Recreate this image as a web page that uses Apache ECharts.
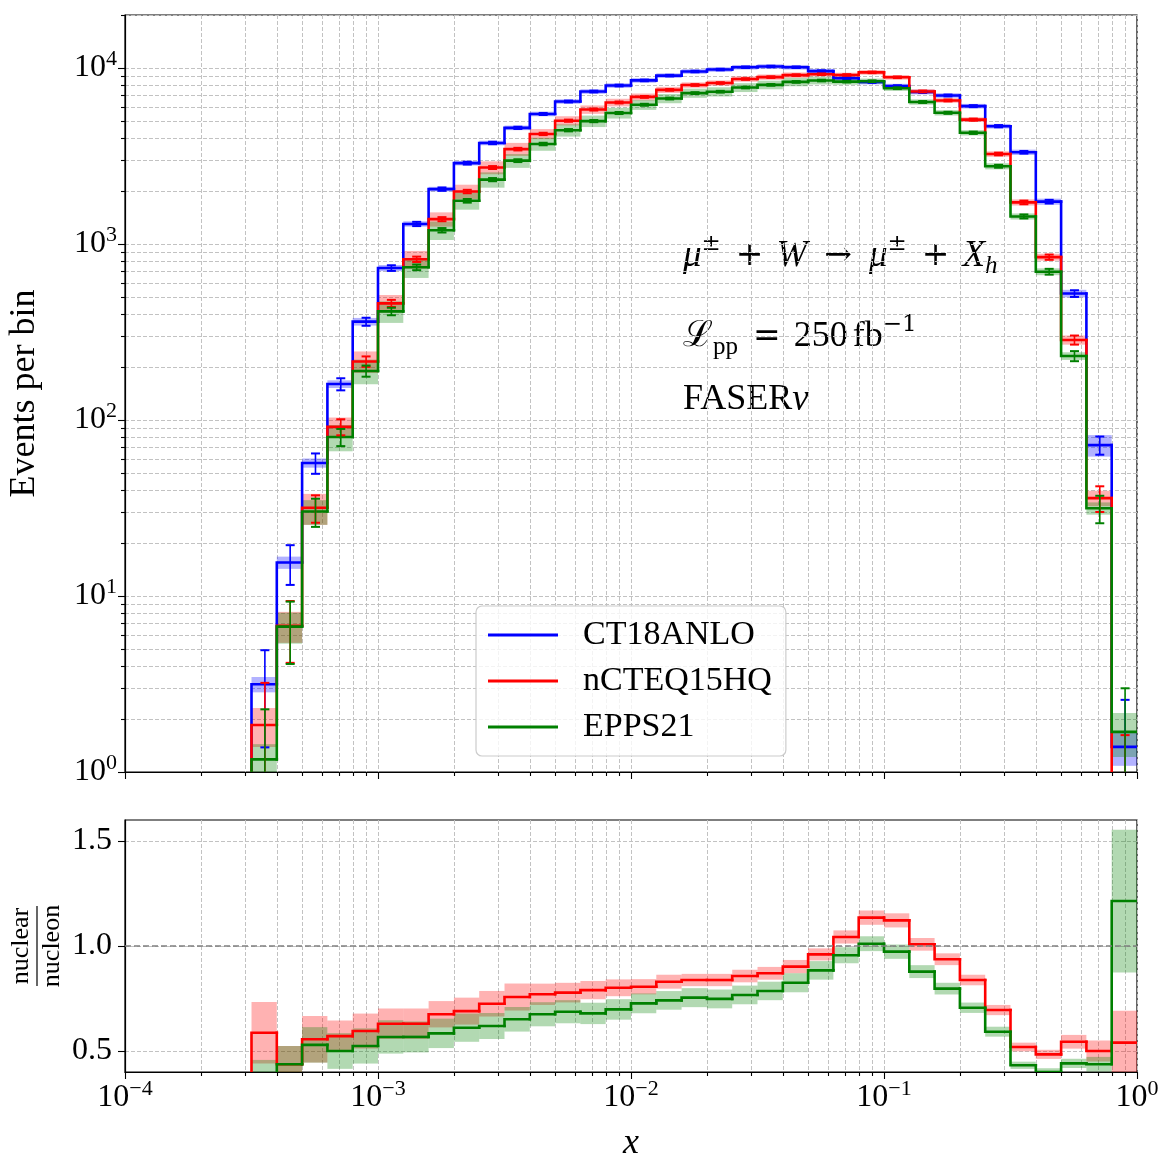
<!DOCTYPE html>
<html>
<head>
<meta charset="utf-8">
<script src="https://cdn.jsdelivr.net/npm/echarts@6/dist/echarts.min.js"></script>
<style>
  html, body { margin: 0; background: #fff; }
  #chart { width: 1176px; height: 1176px; }
</style>
</head>
<body>
<div id="chart"></div>
<script>
// log-spaced bins, 0.1 decade wide, from 10^-3.5 to 1
const edges = [3.1623e-4, 3.9811e-4, 5.0119e-4, 6.3096e-4, 7.9433e-4, 1.0e-3, 1.2589e-3, 1.5849e-3, 1.9953e-3, 2.5119e-3,
  3.1623e-3, 3.9811e-3, 5.0119e-3, 6.3096e-3, 7.9433e-3, 1.0e-2, 1.2589e-2, 1.5849e-2, 1.9953e-2, 2.5119e-2,
  3.1623e-2, 3.9811e-2, 5.0119e-2, 6.3096e-2, 7.9433e-2, 0.1, 0.12589, 0.15849, 0.19953, 0.25119,
  0.31623, 0.39811, 0.50119, 0.63096, 0.79433, 1.0];

// events per bin
const eventsCT18 = [3.15, 15.5, 57, 160, 362, 730, 1300, 2050, 2880, 3750, 4570, 5480, 6450, 7350, 7950, 8500, 9050, 9550,
  9800, 10100, 10200, 10100, 9600, 8750, 8320, 7890, 7300, 6980, 6070, 4670, 3320, 1740, 523, 72, 1.39];
const eventsNCTEQ = [1.85, 6.77, 31.7, 91.4, 215, 460, 819, 1384, 1987, 2719, 3459, 4220, 5018, 5807, 6368, 6851, 7512, 8003,
  8212, 8656, 8874, 9110, 9216, 9126, 9443, 8853, 7358, 6540, 5087, 3246, 1723, 842, 285, 36, 0.75];
const eventsEPPS = [1.18, 6.7, 30.2, 80, 190, 414, 737, 1197, 1760, 2321, 2975, 3699, 4431, 4991, 5549, 6180, 6706, 7201,
  7330, 7747, 8017, 8333, 8486, 8365, 8412, 7677, 6409, 5563, 4285, 2765, 1434, 696, 231, 31.5, 1.69];

// statistical errors (error bars)
const errCT18 = [1.77, 3.94, 7.55, 12.6, 19.0, 27.0, 36.1, 45.3, 53.7, 61.2, 67.6, 74.0, 80.3, 85.7, 89.2, 92.2, 95.1, 97.7,
  99, 100.5, 101, 100.5, 98, 93.5, 91.2, 88.8, 85.4, 83.5, 77.9, 68.3, 57.6, 41.7, 22.9, 8.5, 1.18];
const errNCTEQ = [1.36, 2.6, 5.63, 9.56, 14.7, 21.4, 28.6, 37.2, 44.6, 52.1, 58.8, 65, 70.8, 76.2, 79.8, 82.8, 86.7, 89.5,
  90.6, 93, 94.2, 95.4, 96, 95.5, 97.2, 94.1, 85.8, 80.9, 71.3, 57, 41.5, 29, 16.9, 6, 0.87];
const errEPPS = [1.09, 2.59, 5.5, 8.94, 13.8, 20.3, 27.1, 34.6, 42, 48.2, 54.5, 60.8, 66.6, 70.6, 74.5, 78.6, 81.9, 84.9,
  85.6, 88, 89.5, 91.3, 92.1, 91.5, 91.7, 87.6, 80.1, 74.6, 65.5, 52.6, 37.9, 26.4, 15.2, 5.6, 1.3];

// relative PDF uncertainty (half width of the shaded bands)
const bandCT18 = [0.10, 0.08, 0.06, 0.05, 0.05, 0.04, 0.035, 0.03, 0.03, 0.03, 0.03, 0.03, 0.03, 0.03, 0.03, 0.03, 0.03, 0.03,
  0.03, 0.03, 0.03, 0.03, 0.03, 0.03, 0.03, 0.03, 0.03, 0.03, 0.03, 0.03, 0.035, 0.04, 0.05, 0.14, 0.22];
const bandNCTEQ = [0.25, 0.2, 0.2, 0.13, 0.14, 0.115, 0.115, 0.093, 0.093, 0.084, 0.085, 0.066, 0.06, 0.055, 0.05, 0.045, 0.04,
  0.035, 0.035, 0.035, 0.035, 0.035, 0.03, 0.03, 0.03, 0.03, 0.03, 0.03, 0.03, 0.035, 0.04, 0.045, 0.06, 0.1, 0.28];
const bandEPPS = [0.22, 0.2, 0.16, 0.17, 0.16, 0.14, 0.13, 0.12, 0.11, 0.1, 0.09, 0.085, 0.08, 0.075, 0.07, 0.065, 0.06, 0.06,
  0.06, 0.058, 0.056, 0.055, 0.05, 0.04, 0.035, 0.035, 0.035, 0.035, 0.035, 0.04, 0.04, 0.045, 0.05, 0.08, 0.28];

// nuclear / nucleon ratios
const ratioNCTEQ = [0.587, 0.437, 0.556, 0.571, 0.595, 0.63, 0.63, 0.675, 0.69, 0.725, 0.757, 0.77, 0.778, 0.79, 0.801, 0.806,
  0.83, 0.838, 0.838, 0.857, 0.87, 0.902, 0.96, 1.043, 1.135, 1.122, 1.008, 0.937, 0.838, 0.695, 0.519, 0.484, 0.544, 0.5, 0.54];
const ratioEPPS = [0.375, 0.437, 0.529, 0.5, 0.524, 0.567, 0.567, 0.584, 0.611, 0.619, 0.651, 0.675, 0.687, 0.679, 0.698, 0.727,
  0.741, 0.754, 0.748, 0.767, 0.786, 0.825, 0.884, 0.956, 1.011, 0.973, 0.878, 0.797, 0.706, 0.592, 0.432, 0.40, 0.441, 0.437, 1.214];

// ticks
const xMajor = [1e-4, 1e-3, 1e-2, 1e-1, 1];
const xExp = ['\u22124', '\u22123', '\u22122', '\u22121', '0'];
const yTopMajor = [1, 10, 100, 1000, 10000];
const yTopExp = ['0', '1', '2', '3', '4'];
const yRatioTicks = [0.5, 1.0, 1.5];
const minorMult = [2, 3, 4, 5, 6, 7, 8, 9];
const xMinor = xMajor.slice(0, -1).flatMap(d => minorMult.map(k => k * d));
const yTopMinor = yTopMajor.slice(0, -1).flatMap(d => minorMult.map(k => k * d)).concat([2e4]);

const BLUE = '#0000ff', RED = '#ff0000', GREEN = '#008000';
const FONT = '"Liberation Serif", "DejaVu Serif", serif';
const SYM = '"DejaVu Serif", serif';

const chart = echarts.init(document.getElementById('chart'), null, { renderer: 'canvas' });

const histData = (vals, band, err) =>
  vals.map((v, i) => [edges[i], edges[i + 1], v, band[i], err ? err[i] : 0, i > 0 ? vals[i - 1] : 0]);

const below = params => params.coordSys.y + params.coordSys.height + 10;
const yPix = (api, params, x, v) => (v > 0 ? api.coord([x, v])[1] : below(params));

const renderBand = fill => (params, api) => {
  const lo = api.value(0), hi = api.value(1), v = api.value(2), r = api.value(3);
  const a = api.coord([lo, v * (1 + r)]), b = api.coord([hi, v * (1 - r)]);
  return { type: 'rect', shape: { x: a[0], y: a[1], width: b[0] - a[0], height: b[1] - a[1] }, style: { fill } };
};

const renderStep = color => (params, api) => {
  const lo = api.value(0), hi = api.value(1), v = api.value(2), prev = api.value(5);
  const yv = yPix(api, params, lo, v), yp = yPix(api, params, lo, prev);
  const x0 = api.coord([lo, 1])[0], x1 = api.coord([hi, 1])[0];
  return {
    type: 'polyline',
    shape: { points: [[x0, yp], [x0, yv], [x1, yv]] },
    style: { stroke: color, lineWidth: 2.6, fill: null, lineCap: 'square', lineJoin: 'miter' },
  };
};

const renderErr = color => (params, api) => {
  const lo = api.value(0), hi = api.value(1), v = api.value(2), e = api.value(4);
  const xc = api.coord([(lo + hi) / 2, 1])[0];
  const yt = api.coord([lo, v + e])[1];
  const yb = yPix(api, params, lo, v - e);
  const bar = { stroke: color, lineWidth: 1.6 }, cap = { stroke: color, lineWidth: 2 };
  return {
    type: 'group',
    children: [
      { type: 'line', shape: { x1: xc, y1: yt, x2: xc, y2: yb }, style: bar },
      { type: 'line', shape: { x1: xc - 4.5, y1: yt, x2: xc + 4.5, y2: yt }, style: cap },
      { type: 'line', shape: { x1: xc - 4.5, y1: yb, x2: xc + 4.5, y2: yb }, style: cap },
    ],
  };
};

const custom = (name, xi, data, renderItem) => ({
  name, type: 'custom', xAxisIndex: xi, yAxisIndex: xi, clip: true, silent: true,
  encode: { x: [0, 1], y: 2 }, data, renderItem,
});

const gridLine = { show: true, lineStyle: { color: '#c2c2c2', width: 1, type: [4, 2] } };
const spine = { show: true, onZero: false, lineStyle: { color: '#000', width: 1.2 } };
const tickMaj = len => ({ show: true, length: len, lineStyle: { color: '#000', width: 1.1 } });
const richPow = {
  b: { fontFamily: FONT, fontSize: 32, color: '#000', lineHeight: 40 },
  s: { fontFamily: FONT, fontSize: 22, color: '#000', lineHeight: 22, verticalAlign: 'top' },
};
const nearestIdx = (arr, v) => arr.findIndex(t => Math.abs(Math.log10(t) - Math.log10(v)) < 1e-6);

const logX = (gi, extra) => Object.assign({
  gridIndex: gi, type: 'log', logBase: 10, min: 1e-4, max: 1, position: 'bottom',
  axisLine: { show: false }, axisLabel: { show: false }, splitLine: gridLine,
}, extra);

// text styles for the annotations (math-like)
const tx = (size, extra) => Object.assign({ fontFamily: FONT, fontSize: size, lineHeight: 46, fill: '#000' }, extra);
const mathRich = {
  i: tx(37, { fontStyle: 'italic' }),
  n: tx(36),
  o: tx(33, { fontFamily: SYM, padding: [0, 13, 0, 15] }),
  a: tx(33, { fontFamily: SYM, padding: [0, 17, 0, 17] }),
  t: tx(36, { padding: [0, 0, 0, 5] }),
  s: tx(23, { fontFamily: SYM, lineHeight: 26, verticalAlign: 'top' }),
  d: tx(25, { lineHeight: 27, verticalAlign: 'bottom' }),
  di: tx(25, { lineHeight: 27, verticalAlign: 'bottom', fontStyle: 'italic' }),
};

const option = {
  backgroundColor: '#fff',
  animation: false,
  grid: [
    { left: 125, top: 15, width: 1012, height: 757, show: true, borderColor: '#000', borderWidth: 1.2,
      backgroundColor: 'transparent', containLabel: false, outerBoundsMode: 'none' },
    { left: 125, top: 820, width: 1012, height: 252, show: true, borderColor: '#000', borderWidth: 1.2,
      backgroundColor: 'transparent', containLabel: false, outerBoundsMode: 'none' },
  ],
  xAxis: [
    logX(0, { axisLine: spine, axisTick: Object.assign(tickMaj(7), { customValues: xMajor }) }),
    logX(0, { axisTick: Object.assign(tickMaj(4), { customValues: xMinor }) }),
    logX(1, {
      axisLine: spine,
      axisTick: Object.assign(tickMaj(7), { customValues: xMajor }),
      axisLabel: {
        show: true, customValues: xMajor, margin: 6, rich: richPow,
        formatter: v => { const k = nearestIdx(xMajor, v); return k < 0 ? '' : `{b|10}{s|${xExp[k]}}`; },
      },
      name: 'x', nameLocation: 'middle', nameGap: 54,
      nameTextStyle: { fontFamily: FONT, fontStyle: 'italic', fontSize: 36, color: '#000' },
    }),
    logX(1, { axisTick: Object.assign(tickMaj(4), { customValues: xMinor }) }),
  ],
  yAxis: [
    {
      gridIndex: 0, type: 'log', logBase: 10, min: 1, max: 2e4, position: 'left',
      axisLine: spine, axisTick: Object.assign(tickMaj(7), { customValues: yTopMajor }),
      axisLabel: {
        show: true, customValues: yTopMajor, margin: 8, rich: richPow,
        formatter: v => { const k = nearestIdx(yTopMajor, v); return k < 0 ? '' : `{b|10}{s|${yTopExp[k]}}`; },
      },
      splitLine: gridLine,
      name: 'Events per bin', nameLocation: 'middle', nameGap: 82, nameRotate: 90,
      nameTextStyle: { fontFamily: FONT, fontSize: 36, color: '#000' },
    },
    {
      gridIndex: 0, type: 'log', logBase: 10, min: 1, max: 2e4, position: 'left',
      axisLine: { show: false }, axisTick: Object.assign(tickMaj(4), { customValues: yTopMinor }),
      axisLabel: { show: false }, splitLine: gridLine,
    },
    {
      gridIndex: 1, type: 'value', min: 0.4, max: 1.6, position: 'left',
      axisLine: spine, axisTick: Object.assign(tickMaj(7), { customValues: yRatioTicks }),
      axisLabel: {
        show: true, customValues: yRatioTicks, margin: 13, fontFamily: FONT, fontSize: 32, color: '#000',
        formatter: v => v.toFixed(1),
      },
      splitLine: gridLine,
    },
  ],
  legend: {
    data: [
      { name: 'CT18ANLO', itemStyle: { color: BLUE } },
      { name: 'nCTEQ15HQ', itemStyle: { color: RED } },
      { name: 'EPPS21', itemStyle: { color: GREEN } },
    ],
    orient: 'vertical', left: 476, top: 606, selectedMode: false,
    icon: 'rect', itemWidth: 70, itemHeight: 3, itemGap: 12,
    padding: [12, 14, 12, 12],
    backgroundColor: 'rgba(255,255,255,0.8)', borderColor: '#cccccc', borderWidth: 1.2, borderRadius: 6,
    textStyle: { fontFamily: FONT, fontSize: 34, color: '#000', lineHeight: 34, padding: [0, 0, 0, 20] },
  },
  graphic: [
    {
      type: 'text', x: 683, y: 256, silent: true,
      style: {
        text: '{i|\u03bc}{s|\u00b1}{o|+}{i|W}{a|\u2192}{i|\u03bc}{s|\u00b1}{o|+}{i|X}{di|h}',
        verticalAlign: 'middle', textVerticalAlign: 'middle', rich: mathRich,
      },
    },
    {
      type: 'text', x: 683, y: 337, silent: true,
      style: {
        text: '{n|\u2112}{d|pp}{o|=}{n|250}{t|fb}{s|\u22121}',
        verticalAlign: 'middle', textVerticalAlign: 'middle', rich: mathRich,
      },
    },
    {
      type: 'text', x: 683, y: 400, silent: true,
      style: {
        text: '{n|FASER}{i|\u03bd}',
        verticalAlign: 'middle', textVerticalAlign: 'middle', rich: mathRich,
      },
    },
    {
      type: 'group', x: 37, y: 946, rotation: Math.PI / 2, silent: true,
      children: [
        { type: 'text', x: 0, y: -3, style: { text: 'nuclear', fontFamily: FONT, fontSize: 26, fill: '#000',
          align: 'center', textAlign: 'center', verticalAlign: 'bottom', textVerticalAlign: 'bottom' } },
        { type: 'line', shape: { x1: -40, y1: 0, x2: 40, y2: 0 }, style: { stroke: '#000', lineWidth: 1.2 } },
        { type: 'text', x: 0, y: 2, style: { text: 'nucleon', fontFamily: FONT, fontSize: 26, fill: '#000',
          align: 'center', textAlign: 'center', verticalAlign: 'top', textVerticalAlign: 'top' } },
      ],
    },
  ],
  series: [
    // upper panel: uncertainty bands, step outlines, error bars
    custom('band CT18ANLO', 0, histData(eventsCT18, bandCT18), renderBand('rgba(0,0,255,0.3)')),
    custom('band nCTEQ15HQ', 0, histData(eventsNCTEQ, bandNCTEQ), renderBand('rgba(255,0,0,0.3)')),
    custom('band EPPS21', 0, histData(eventsEPPS, bandEPPS), renderBand('rgba(0,128,0,0.3)')),
    Object.assign(custom('CT18ANLO', 0, histData(eventsCT18, bandCT18), renderStep(BLUE)), { itemStyle: { color: BLUE } }),
    Object.assign(custom('nCTEQ15HQ', 0, histData(eventsNCTEQ, bandNCTEQ), renderStep(RED)), { itemStyle: { color: RED } }),
    Object.assign(custom('EPPS21', 0, histData(eventsEPPS, bandEPPS), renderStep(GREEN)), { itemStyle: { color: GREEN } }),
    custom('err CT18ANLO', 0, histData(eventsCT18, bandCT18, errCT18), renderErr(BLUE)),
    custom('err nCTEQ15HQ', 0, histData(eventsNCTEQ, bandNCTEQ, errNCTEQ), renderErr(RED)),
    custom('err EPPS21', 0, histData(eventsEPPS, bandEPPS, errEPPS), renderErr(GREEN)),
    // lower panel: ratios to CT18ANLO
    custom('ratio band nCTEQ15HQ', 2, histData(ratioNCTEQ, bandNCTEQ), renderBand('rgba(255,0,0,0.3)')),
    custom('ratio band EPPS21', 2, histData(ratioEPPS, bandEPPS), renderBand('rgba(0,128,0,0.3)')),
    {
      name: 'unity', type: 'line', xAxisIndex: 2, yAxisIndex: 2, data: [], silent: true,
      markLine: {
        silent: true, symbol: 'none', label: { show: false },
        lineStyle: { color: '#808080', width: 1.6, type: [6, 3] },
        data: [{ yAxis: 1 }],
      },
    },
    custom('ratio nCTEQ15HQ', 2, histData(ratioNCTEQ, bandNCTEQ), renderStep(RED)),
    custom('ratio EPPS21', 2, histData(ratioEPPS, bandEPPS), renderStep(GREEN)),
  ],
};

chart.setOption(option);
</script>
</body>
</html>
